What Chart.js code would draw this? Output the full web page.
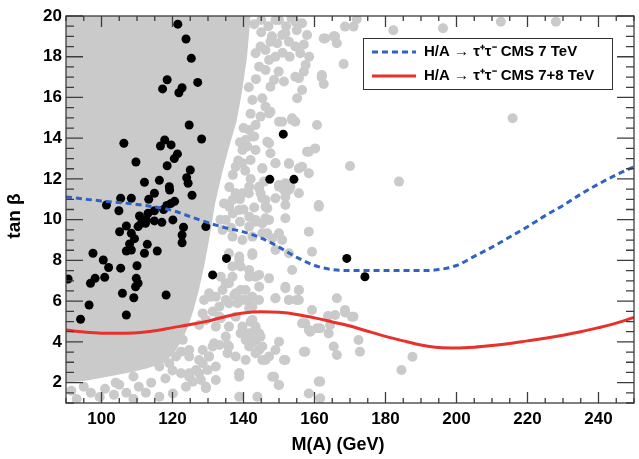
<!DOCTYPE html>
<html>
<head>
<meta charset="utf-8">
<script src="https://cdn.jsdelivr.net/npm/chart.js@4.4.1/dist/chart.umd.min.js"></script>
<style>
  body { margin: 0; background: #fff; }
  canvas { display: block; }
</style>
</head>
<body>
<canvas id="chart" width="639" height="459"></canvas>
<script>
// axis ticks
const xTicks = [100, 120, 140, 160, 180, 200, 220, 240];
const yTicks = [2, 4, 6, 8, 10, 12, 14, 16, 18, 20];

// CMS exclusion curves
const cms7X = [90, 100, 110, 120, 125, 130, 135, 140, 145, 150, 155, 160, 165, 170, 180, 190, 195, 200, 205, 210, 215, 220, 225, 230, 235, 240, 245, 250];
const cms7Y = [11.12, 10.92, 10.75, 10.45, 10.15, 9.85, 9.6, 9.4, 9.1, 8.65, 8.15, 7.75, 7.55, 7.5, 7.5, 7.5, 7.55, 7.75, 8.2, 8.65, 9.15, 9.65, 10.2, 10.7, 11.25, 11.75, 12.2, 12.6];
const cms78X = [90, 95, 100, 105, 110, 115, 120, 125, 130, 135, 140, 145, 150, 155, 160, 165, 170, 175, 180, 185, 190, 195, 200, 205, 210, 215, 220, 225, 230, 235, 240, 245, 250];
const cms78Y = [4.58, 4.48, 4.43, 4.43, 4.45, 4.55, 4.7, 4.85, 5.02, 5.25, 5.42, 5.48, 5.45, 5.35, 5.18, 4.98, 4.78, 4.52, 4.27, 4.05, 3.85, 3.72, 3.7, 3.74, 3.82, 3.92, 4.05, 4.18, 4.33, 4.5, 4.7, 4.92, 5.2];

// lower edge of the dense grey scan region (filled up to tan beta = 20)
const denseX = [90, 96, 102, 108, 113, 118, 121, 123, 124.5, 126, 127.5, 129, 130.5, 132, 134, 136, 138, 139.5, 141, 142];
const denseY = [2.0, 2.1, 2.3, 2.5, 2.7, 3.0, 3.6, 4.2, 4.8, 5.6, 6.6, 7.8, 9.2, 10.8, 12.3, 13.6, 14.8, 16.2, 18.0, 20];

// scattered grey scan points
const grayPoints = [
  [151.8,19.15],[152.8,18.74],[154.6,18.5],[156.0,18.17],[157.9,19.07],[156.5,19.64],[154.6,19.72],[162.6,18.9],
  [165.8,18.99],[166.3,18.66],[168.6,19.48],[171.0,19.48],[171.9,19.84],[168.2,17.64],[162.1,17.1],[162.6,16.66],
  [157.0,17.27],[155.6,16.94],[154.6,17.02],[156.5,16.37],[155.1,15.96],[149.9,17.27],[151.4,16.78],[148.6,16.86],
  [147.6,16.53],[144.4,17.51],[146.2,17.35],[147.2,17.84],[147.6,18.74],[149.5,18.66],[150.9,19.07],[144.8,18.5],
  [143.4,18.17],[146.2,18.33],[142.5,15.88],[145.3,15.96],[146.2,15.55],[147.6,15.3],[144.8,15.06],[143.4,14.65],
  [150.9,14.81],[153.7,14.98],[154.6,14.81],[160.7,14.65],[147.2,13.75],[147.6,13.26],[142.5,14.08],[141.1,13.59],
  [143.4,13.42],[157.9,13.34],[160.2,13.5],[149.0,12.77],[152.8,12.74],[156.5,12.6],[158.4,12.28],[145.3,12.52],
  [144.4,11.62],[150.0,11.7],[151.4,11.46],[152.8,11.46],[155.6,11.3],[149.0,11.05],[145.3,11.05],[151.8,10.72],
  [161.2,10.72],[170.0,12.64],[183.8,11.87],[215.8,14.98],[196.2,19.4],[212.5,19.72],[228.0,19.72],[182.2,19.3],
  [163.0,18.9],[165.4,19.0],[162.0,17.0],[143,19.6],[145,19.8],[147,19.5],[149,19.8],[143.5,16.9],[141.5,16.5],
  [142,15.2],[140,14.5],[139,13.8],[138.5,12.9],[137,12.2],[140.5,12.4],[142,12.0],[136,11.6],[139,11.0],[141.5,11.3],
  [134.5,10.8],[137,10.3],[140,10.5],[143,10.6],[133.5,10.0],[136.5,9.6],[139,9.9],
  [150,19.8],[152,19.5],[153.5,19.9],[155,19.3],[157,18.6],[158.5,18.0],[157.5,17.6],[153,18.0],[151,18.2],
  [149,18.0],[145,19.2],[148,19.0],
  [147.2,15.22],[150.0,14.81],[153.7,14.9],[146.7,13.83],[158.4,13.34],[141.6,14.4],[140.6,13.91],[143.0,14.08],
  [139.7,13.42],[142.0,12.93],[139.7,12.77],[137.8,12.6],[145.3,12.52],[149.0,12.77],[152.8,12.77],[155.6,12.52],
  [150.0,11.62],[151.8,11.79],[153.2,11.62],[151.8,11.13],[146.2,10.97],[144.4,11.54],[144.8,11.3],[145.8,11.87],
  [141.6,11.62],[139.7,11.3],[137.8,11.3],[136.9,10.97],[136.0,10.64],[138.8,10.48],[141.6,10.15],[143.4,9.99],
  [145.3,9.82],[147.2,9.99],[146.2,10.64],[146.7,9.33],[150.0,9.33],[151.8,10.07],[161.2,10.64],[135.0,9.99],
  [134.1,9.49],[136.9,9.17],[139.7,9.0],[142.5,9.17],
  [146.7,10.56],[146.2,10.07],[143.4,9.9],[141.6,9.66],[145.3,9.33],[148.1,9.09],[150.9,9.0],[149.0,8.51],
  [152.8,8.35],[158.4,9.41],[159.3,8.43],[153.7,7.53],[142.5,8.35],[138.8,8.02],[136.9,7.7],[141.6,7.2],[143.4,7.2],
  [144.4,6.71],[140.6,6.55],[139.7,6.06],[141.6,6.06],[144.4,6.06],[142.5,5.73],[137.4,6.3],[135.0,6.88],[133.6,7.2],
  [135.9,8.35],[138.8,8.19],[142.5,8.27],[139.2,7.7],[141.6,7.53],[144.4,7.29],[147.2,7.12],[136.9,7.2],[135.9,6.88],
  [134.1,6.55],[132.2,6.22],[130.3,6.39],[137.8,6.39],[140.6,6.06],[142.5,6.22],[139.2,6.55],[135.9,5.9],[138.3,5.9],
  [141.6,5.65],[131.3,5.49],[128.5,5.4],[129.4,5.08],[133.2,5.24],[137.8,5.24],[139.7,4.75],[142.0,4.99],[143.4,4.59],
  [144.8,4.26],[142.5,3.93],[144.4,3.6],[145.3,3.11],[147.2,3.28],[149.0,3.6],[150.0,4.01],[151.8,3.11],[157.4,3.52],
  [156.5,4.91],[158.4,4.59],[160.7,4.67],[159.3,5.57],[155.6,6.06],[155.6,6.55],[152.8,6.06],[151.8,6.71],[149.0,6.14],
  [128.5,3.6],[131.3,3.77],[133.2,3.85],[135.5,3.85],[130.3,3.28],[128.5,2.95],[132.2,2.79],[126.6,2.62],[124.7,2.29],
  [128.0,2.13],[129.4,1.72],[138.8,2.46],[138.8,2.29],[148.1,2.29],[150.0,1.88],[122.9,4.1],[124.7,3.6],[121.0,3.28],
  [127.5,4.83],
  [151.8,6.63],[155.6,6.55],[149.0,6.14],[152.8,6.06],[154.9,6.06],[166.3,6.14],[170.5,5.24],[165.8,5.32],[168.6,5.57],
  [157.4,4.91],[158.8,4.5],[164.0,4.42],[172.4,4.09],[172.8,3.52],[165.4,3.77],[166.3,3.36],[142.5,5.08],[143.4,4.75],
  [144.4,4.42],[143.4,4.09],[145.3,3.77],[143.4,3.44],[141.6,3.77],[140.6,3.11],[137.8,3.28],[135.9,3.77],[135.5,3.44],
  [146.2,3.11],[151.4,3.11],[157.0,3.52],[138.8,2.46],[148.6,2.29],[149.9,1.88],[161.2,2.05],[158.4,1.47],
  [184.5,2.62],[132.2,2.13],[129.4,1.8],[127.5,2.46],[124.7,2.46],[125.7,2.05],[129.9,2.62],[131.7,3.93],[130.3,3.28],
  [127.5,3.11],[124.7,3.28],[122.4,3.52],[135.9,4.75],[135.0,4.26],[132.2,4.75],[133.6,5.16],[133.2,5.73],[135.0,6.06],
  [130.8,6.22],[128.9,6.06],[139.2,4.42],[140.6,4.09],[141.6,4.42],[119.1,2.95],[116.3,2.79],[122.4,2.46],[116.3,1.31],
  [120.1,1.47],[123.8,1.8],[138.8,1.31],[143.9,1.31],[168.6,5.44],[171.0,5.24],[163.8,5.27],[164.4,4.83],[161.6,4.67],
  [187.6,3.27],[161.6,2.05],[161.6,1.23],[91.5,1.6],[93,1.2],[97,1.5],[99.5,1.3],[101,1.7],[103.5,1.4],[105,1.9],
  [107,1.5],[109,1.2],[110.5,1.8],[112.5,1.5],[114,2.0],[118,2.2],[120,2.6],[109,2.3],[104,2.0],[95,1.8]
];

// points passing the constraints
const blackPoints = [
  [121.5,19.6],[123.8,18.87],[125.3,17.92],[118.5,16.87],[117.2,16.42],[127.1,16.74],[122.7,16.48],[121.8,16.23],
  [124.7,14.65],[128.2,13.96],[106.3,13.75],[117.8,13.91],[116.6,13.62],[119.6,13.67],[121.4,13.23],[120.5,13.0],
  [118.5,12.65],[109.7,12.83],[125.0,12.44],[112.1,11.84],[116.3,11.93],[124.0,12.06],[124.4,11.79],[119.1,11.62],
  [119.2,11.46],[114.9,11.3],[125.5,11.2],[105.4,11.05],[108.4,11.05],[113.3,11.0],[120.6,10.9],[119.6,10.8],
  [118.4,10.7],[117.5,10.5],[101.4,10.72],[104.9,10.44],[110.7,10.18],[113.1,10.31],[114.9,10.44],[112.6,10.0],
  [107.0,9.69],[105.1,9.41],[108.4,9.33],[110.3,9.66],[111.2,9.82],[112.4,9.82],[114.9,9.94],[117.0,9.87],[120.1,9.99],
  [123.1,9.63],[122.7,9.25],[122.7,8.87],[129.4,9.66],[109.3,9.07],[107.9,8.81],[107.0,8.46],[108.4,8.51],[112.1,8.35],
  [112.9,8.79],[115.7,8.46],[97.6,8.35],[100.5,8.02],[102.0,7.65],[105.4,7.62],[110.0,7.74],[90.6,7.09],[96.9,6.88],
  [98.2,7.12],[100.9,7.17],[109.8,7.12],[110.3,6.88],[109.6,6.71],[105.9,6.39],[109.1,6.17],[118.2,6.3],[135.2,8.1],
  [131.3,7.29],[96.5,5.81],[94.1,5.11],[107.0,5.32],[147.4,11.98],[154.2,11.98],[151.2,14.2],[169.1,8.1],[174.2,7.2]
];

const legendLabels = ['H/A \u2192 \u03c4\u207a\u03c4\u207b CMS 7 TeV', 'H/A \u2192 \u03c4\u207a\u03c4\u207b CMS 7+8 TeV'];

const GREY = '#cacaca';
const BLUE = '#2f62c4';
const RED = '#e8312b';

function pairs(xs, ys) {
  return xs.map((x, i) => ({ x: x, y: ys[i] }));
}

// ROOT-like frame: inward ticks on all four sides, axis titles and the legend box
const rootFrame = {
  id: 'rootFrame',
  afterDraw(chart) {
    const { ctx, chartArea: a, scales } = chart;
    const x = scales.x, y = scales.y;
    ctx.save();
    ctx.strokeStyle = '#3c3c3c';
    ctx.lineWidth = 1.3;
    ctx.strokeRect(a.left, a.top, a.right - a.left, a.bottom - a.top);

    ctx.beginPath();
    for (let v = 90; v <= 250; v += 5) {
      const px = x.getPixelForValue(v);
      const len = v % 20 === 0 ? 11 : 5;
      ctx.moveTo(px, a.bottom); ctx.lineTo(px, a.bottom - len);
      ctx.moveTo(px, a.top); ctx.lineTo(px, a.top + len);
    }
    for (let v = 1; v <= 20; v += 0.5) {
      const py = y.getPixelForValue(v);
      const len = v % 2 === 0 ? 17 : 8;
      ctx.moveTo(a.left, py); ctx.lineTo(a.left + len, py);
      ctx.moveTo(a.right, py); ctx.lineTo(a.right - len, py);
    }
    ctx.stroke();

    // axis titles
    ctx.fillStyle = '#000';
    ctx.font = 'bold 18px "Liberation Sans", Arial, sans-serif';
    ctx.textAlign = 'center';
    ctx.textBaseline = 'middle';
    ctx.fillText('M(A) (GeV)', 338, 445);
    ctx.save();
    ctx.translate(15, 216);
    ctx.rotate(-Math.PI / 2);
    ctx.font = 'bold 19px "Liberation Sans", Arial, sans-serif';
    ctx.fillText('tan \u03b2', 0, 0);
    ctx.restore();

    // legend
    ctx.fillStyle = '#fff';
    ctx.fillRect(363, 38, 249, 51);
    ctx.strokeStyle = '#333';
    ctx.lineWidth = 1;
    ctx.strokeRect(363.5, 38.5, 249, 51);
    const rows = [
      { ds: chart.data.datasets[3], y: 52 },
      { ds: chart.data.datasets[4], y: 76 }
    ];
    rows.forEach((r, i) => {
      ctx.beginPath();
      ctx.strokeStyle = r.ds.borderColor;
      ctx.lineWidth = r.ds.borderWidth;
      ctx.setLineDash(r.ds.borderDash || []);
      ctx.moveTo(372, r.y); ctx.lineTo(416, r.y);
      ctx.stroke();
      ctx.setLineDash([]);
      ctx.fillStyle = '#000';
      ctx.font = 'bold 15px "Liberation Sans", Arial, sans-serif';
      ctx.textAlign = 'left';
      ctx.fillText(legendLabels[i], 424, r.y);
    });
    ctx.restore();
  }
};

const tickFont = { family: '"Liberation Sans", Arial, sans-serif', size: 17, weight: 'bold' };

new Chart(document.getElementById('chart').getContext('2d'), {
  type: 'scatter',
  data: {
    datasets: [
      {
        type: 'line',
        label: 'scan (dense)',
        data: pairs(denseX, denseY),
        borderWidth: 0,
        pointRadius: 0,
        backgroundColor: GREY,
        fill: 'end',
        order: 5
      },
      {
        label: 'scan',
        data: grayPoints.map(p => ({ x: p[0], y: p[1] })),
        pointRadius: 5,
        backgroundColor: GREY,
        borderWidth: 0,
        order: 4
      },
      {
        label: 'allowed',
        data: blackPoints.map(p => ({ x: p[0], y: p[1] })),
        pointRadius: 4.5,
        backgroundColor: '#000',
        borderWidth: 0,
        order: 3
      },
      {
        type: 'line',
        label: legendLabels[0],
        data: pairs(cms7X, cms7Y),
        borderColor: BLUE,
        borderWidth: 3,
        borderDash: [6, 4],
        pointRadius: 0,
        cubicInterpolationMode: 'monotone',
        fill: false,
        order: 2
      },
      {
        type: 'line',
        label: legendLabels[1],
        data: pairs(cms78X, cms78Y),
        borderColor: RED,
        borderWidth: 3,
        pointRadius: 0,
        cubicInterpolationMode: 'monotone',
        fill: false,
        order: 1
      }
    ]
  },
  options: {
    responsive: false,
    animation: false,
    layout: { padding: { top: 16, right: 2, left: 0, bottom: 0 } },
    plugins: { legend: { display: false }, tooltip: { enabled: false } },
    scales: {
      x: {
        type: 'linear',
        min: 90,
        max: 250,
        afterBuildTicks: s => { s.ticks = xTicks.map(v => ({ value: v })); },
        afterFit: s => { s.height = 56; },
        grid: { display: false, drawTicks: false },
        border: { display: false },
        ticks: { font: tickFont, color: '#000', padding: 6, maxRotation: 0 }
      },
      y: {
        type: 'linear',
        min: 1,
        max: 20,
        afterBuildTicks: s => { s.ticks = yTicks.map(v => ({ value: v })); },
        afterFit: s => { s.width = 66; },
        grid: { display: false, drawTicks: false },
        border: { display: false },
        ticks: { font: tickFont, color: '#000', padding: 4 }
      }
    }
  },
  plugins: [rootFrame]
});
</script>
</body>
</html>
